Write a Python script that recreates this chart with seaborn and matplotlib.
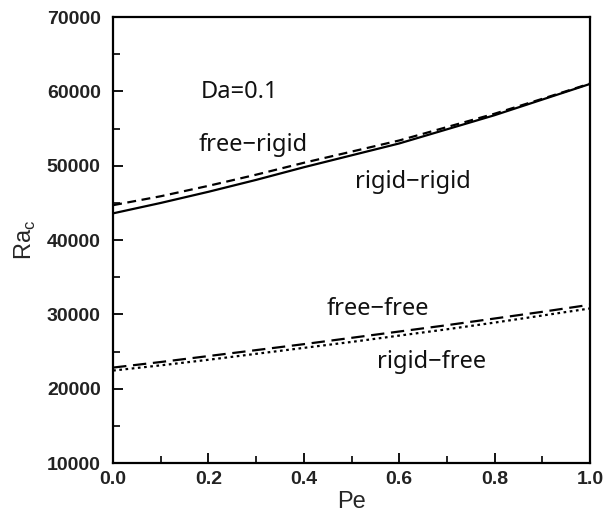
import numpy as np
import pandas as pd
import matplotlib
matplotlib.use("Agg")
import matplotlib.pyplot as plt
import seaborn as sns
from matplotlib.ticker import MultipleLocator

sns.set_theme(style="ticks")
plt.rcParams['font.family'] = ['Liberation Sans', 'DejaVu Sans']

pe = [0.0, 0.1, 0.2, 0.3, 0.4, 0.5, 0.6, 0.7, 0.8, 0.9, 1.0]
rigid_rigid = [43600, 45000, 46500, 48100, 49800, 51400, 53000, 54900, 56800, 58900, 61000]
free_rigid = [44700, 45900, 47300, 48800, 50400, 51900, 53400, 55200, 57000, 59000, 61050]
free_free = [22850, 23600, 24400, 25200, 26000, 26850, 27700, 28550, 29450, 30350, 31300]
rigid_free = [22450, 23150, 23900, 24700, 25500, 26300, 27150, 28000, 28900, 29850, 30800]

series = {
    "rigid-rigid": (rigid_rigid, "-"),
    "free-rigid": (free_rigid, (0, (4, 2.5))),
    "free-free": (free_free, (0, (6, 3))),
    "rigid-free": (rigid_free, (0, (1.2, 1.6))),
}

fig = plt.figure(figsize=(6.05, 5.18), dpi=100)
ax = fig.add_axes([0.187, 0.106, 0.788, 0.861])

for name, (vals, ls) in series.items():
    df = pd.DataFrame({"Pe": pe, "Ra": vals})
    sns.lineplot(data=df, x="Pe", y="Ra", ax=ax, color="black", linewidth=1.6,
                 linestyle=ls)

ax.set_xlim(0, 1)
ax.set_ylim(10000, 70000)
ax.xaxis.set_major_locator(MultipleLocator(0.2))
ax.xaxis.set_minor_locator(MultipleLocator(0.1))
ax.yaxis.set_major_locator(MultipleLocator(10000))
ax.yaxis.set_minor_locator(MultipleLocator(5000))
ax.xaxis.set_major_formatter(matplotlib.ticker.FormatStrFormatter('%.1f'))
ax.tick_params(which='both', direction='in', top=False, right=False, color='black')
ax.tick_params(which='major', length=7, width=1.3, labelsize=14)
ax.tick_params(axis='y', which='major', pad=9)
ax.tick_params(axis='x', which='major', pad=6)
ax.tick_params(which='minor', length=5, width=1.2)
for lab in ax.get_xticklabels() + ax.get_yticklabels():
    lab.set_fontweight('bold')
    lab.set_color('#222222')
for sp in ax.spines.values():
    sp.set_linewidth(1.6)
    sp.set_color('black')

ax.set_xlabel("Pe", fontsize=17, labelpad=2)
ax.set_ylabel(r"Ra$_\mathregular{c}$", fontsize=17, labelpad=6)

txt = dict(fontsize=17, color='#111111', va='center', ha='left',
           family=['Noto Sans', 'DejaVu Sans'])
ax.text(0.183, 59900, "Da=0.1", **txt)
ax.text(0.18, 52800, "free\u2212rigid", **txt)
ax.text(0.507, 47800, "rigid\u2212rigid", **txt)
ax.text(0.447, 30750, "free\u2212free", **txt)
ax.text(0.553, 23600, "rigid\u2212free", **txt)

fig.savefig("out.png", dpi=100)
